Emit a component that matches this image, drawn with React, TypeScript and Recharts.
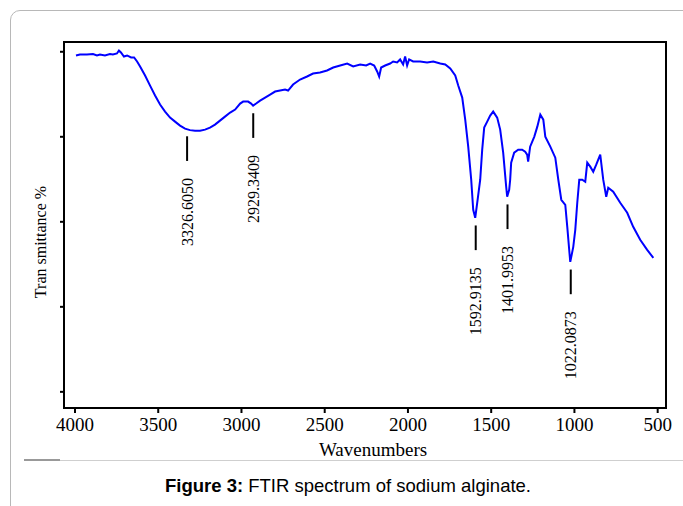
import React from "react";
import { LineChart, Line, XAxis, YAxis, ReferenceLine, ReferenceArea } from "recharts";

// wavenumber (cm-1) and transmittance
const wavenumbers = [
  3994, 3970, 3928, 3892, 3868, 3850, 3820, 3790, 3772, 3748, 3736, 3724, 3706, 3687, 3663, 3645,
  3627, 3609, 3579, 3549, 3519, 3489, 3459, 3429, 3399, 3369, 3339, 3309, 3279, 3249, 3219, 3189,
  3159, 3129, 3099, 3068, 3038, 3008, 2990, 2960, 2942, 2930, 2912, 2888, 2858, 2828, 2798, 2768,
  2738, 2720, 2690, 2648, 2606, 2570, 2528, 2486, 2449, 2407, 2365, 2329, 2287, 2251, 2227, 2203,
  2185, 2173, 2161, 2137, 2107, 2089, 2065, 2047, 2029, 2017, 2005, 1993, 1969, 1927, 1885, 1848,
  1806, 1776, 1746, 1716, 1698, 1674, 1656, 1638, 1620, 1608, 1596, 1584, 1566, 1554, 1542, 1524,
  1506, 1488, 1464, 1446, 1428, 1410, 1404, 1392, 1386, 1380, 1362, 1338, 1314, 1296, 1284, 1278,
  1266, 1241, 1223, 1205, 1187, 1175, 1145, 1115, 1097, 1079, 1055, 1043, 1031, 1025, 1007, 995,
  983, 971, 953, 935, 923, 905, 887, 869, 845, 827, 809, 797, 767, 725, 683, 647, 605, 563, 526,
];
const transmittance = [
  99.13, 99.36, 99.36, 99.48, 99.13, 99.36, 99.13, 99.48, 99.36, 99.6, 100.31, 99.84, 98.89, 99.13, 98.66, 98.66,
  97.71, 96.54, 94.41, 92.05, 89.7, 87.58, 85.93, 84.51, 83.57, 82.63, 81.92, 81.57, 81.45, 81.45, 81.69, 82.16,
  82.87, 83.81, 84.75, 85.7, 86.4, 87.82, 88.29, 88.29, 87.82, 87.34, 87.82, 88.52, 89.23, 89.94, 90.64, 90.88,
  91.11, 90.88, 92.29, 93.47, 94.18, 94.89, 95.12, 95.59, 96.3, 96.77, 97.24, 96.54, 97.01, 96.77, 97.24, 96.77,
  95.36, 94.18, 96.3, 96.77, 97.24, 97.71, 97.48, 98.19, 97.01, 98.89, 96.77, 98.19, 97.71, 97.71, 97.48, 97.71,
  97.24, 97.01, 96.06, 94.41, 92.05, 89.23, 84.04, 77.68, 69.9, 62.83, 60.94, 64.48, 69.9, 76.97, 82.16, 83.57,
  84.99, 85.93, 84.51, 81.69, 76.27, 68.25, 65.89, 67.54, 69.9, 73.91, 76.27, 76.97, 76.97, 76.5, 75.79, 74.14,
  77.68, 80.04, 82.39, 85.22, 84.04, 80.04, 77.68, 75.09, 69.9, 65.19, 64.01, 58.82, 53.19, 50.57, 54.11, 58.12,
  64.48, 69.9, 69.9, 69.43, 73.91, 72.97, 71.79, 73.44, 75.79, 69.9, 65.89, 68.02, 67.07, 64.48, 62.12, 58.82, 55.76, 53.4, 51.51,
];

const xTicks = [4000, 3500, 3000, 2500, 2000, 1500, 1000, 500];
const yTicks = [20, 40, 60, 80, 100];
const peaks = [3326.605, 2929.3409, 1592.9135, 1401.9953, 1022.0873];
const peakLabels = ["3326.6050", "2929.3409", "1592.9135", "1401.9953", "1022.0873"];

const xDomain = [450, 4066];
const yDomain = [16.2, 102.3];

const data = wavenumbers.map((w, i) => ({ w, t: transmittance[i] }));

const serif = "'Liberation Serif', 'Times New Roman', serif";
const sans = "'Liberation Sans', Arial, sans-serif";

function valueNear(x: number) {
  let best = data[0];
  for (const d of data) if (Math.abs(d.w - x) < Math.abs(best.w - x)) best = d;
  return best.t;
}

const PeakLabel = (props: any) => {
  const vb = props.viewBox || {};
  const x = vb.x + (vb.width || 0) / 2;
  const y = vb.y + (vb.height || 0) + 17;
  return (
    <text
      x={x}
      y={y}
      transform={`rotate(-90 ${x} ${y})`}
      textAnchor="end"
      dominantBaseline="central"
      fontFamily={serif}
      fontSize={16}
      fill="#000"
    >
      {props.text}
    </text>
  );
};

const YTitle = (props: any) => {
  const vb = props.viewBox || {};
  const x = vb.x + 16;
  const y = vb.y + vb.height / 2 + 17;
  return (
    <text
      x={x}
      y={y}
      transform={`rotate(-90 ${x} ${y})`}
      textAnchor="middle"
      dominantBaseline="central"
      fontFamily={serif}
      fontSize={16}
      fill="#000"
    >
      Tran smittance %
    </text>
  );
};

const XTitle = (props: any) => {
  const vb = props.viewBox || {};
  return (
    <text
      x={vb.x + vb.width / 2 + 8}
      y={vb.y + 41}
      textAnchor="middle"
      dominantBaseline="central"
      fontFamily={serif}
      fontSize={19}
      fill="#000"
    >
      Wavenumbers
    </text>
  );
};

const NoLabel = () => <g />;

export default function App() {
  const axisLine = { stroke: "#000", strokeWidth: 2 };
  const tickLine = { stroke: "#000", strokeWidth: 2 };
  return (
    <div style={{ position: "absolute", left: 0, top: 0, width: 683, height: 506, overflow: "hidden", background: "#fff" }}>
      <div
        style={{
          position: "absolute",
          left: 10,
          top: 10,
          width: 700,
          height: 520,
          border: "1px solid #b8b8b8",
          borderRadius: 10,
          boxSizing: "border-box",
        }}
      />
      <div style={{ position: "absolute", left: 0, top: 0 }}>
        <LineChart width={683} height={506} data={data} margin={{ top: 42, right: 17, left: 24, bottom: 38 }}>
          <XAxis
            xAxisId="bottom"
            dataKey="w"
            type="number"
            domain={xDomain}
            allowDataOverflow
            reversed
            ticks={xTicks}
            height={60}
            tickSize={5}
            tickMargin={5}
            axisLine={axisLine}
            tickLine={tickLine}
            tick={{ fill: "#000", fontSize: 19, fontFamily: serif }}
            label={<XTitle />}
          />
          <YAxis
            yAxisId="left"
            type="number"
            domain={yDomain}
            allowDataOverflow
            ticks={yTicks}
            width={40}
            tickSize={4}
            tick={<NoLabel />}
            tickLine={tickLine}
            axisLine={axisLine}
            label={<YTitle />}
          />
          <ReferenceArea
            xAxisId="bottom"
            yAxisId="left"
            x1={xDomain[0]}
            x2={xDomain[1]}
            y1={yDomain[0]}
            y2={yDomain[1]}
            fill="none"
            fillOpacity={0}
            stroke="#000"
            strokeWidth={2}
            ifOverflow="visible"
          />
          <Line
            xAxisId="bottom"
            yAxisId="left"
            type="linear"
            dataKey="t"
            stroke="#0000ff"
            strokeWidth={2}
            dot={false}
            isAnimationActive={false}
          />
          {peaks.map((p, i) => {
            const top = valueNear(p) - 1.8;
            return (
              <ReferenceLine
                key={p}
                xAxisId="bottom"
                yAxisId="left"
                segment={[
                  { x: p, y: top },
                  { x: p, y: top - 5.8 },
                ]}
                stroke="#000"
                strokeWidth={2}
                label={<PeakLabel text={peakLabels[i]} />}
              />
            );
          })}
        </LineChart>
      </div>
      <div style={{ position: "absolute", left: 24, top: 459, width: 36, height: 2, background: "#999" }} />
      <div style={{ position: "absolute", left: 60, top: 460, width: 640, height: 1, background: "#cfcfcf" }} />
      <div
        style={{
          position: "absolute",
          left: 10,
          width: 676,
          top: 475,
          lineHeight: "22px",
          textAlign: "center",
          fontFamily: sans,
          fontSize: 18.5,
          color: "#000",
        }}
      >
        <b>Figure 3:</b> FTIR spectrum of sodium alginate.
      </div>
    </div>
  );
}
